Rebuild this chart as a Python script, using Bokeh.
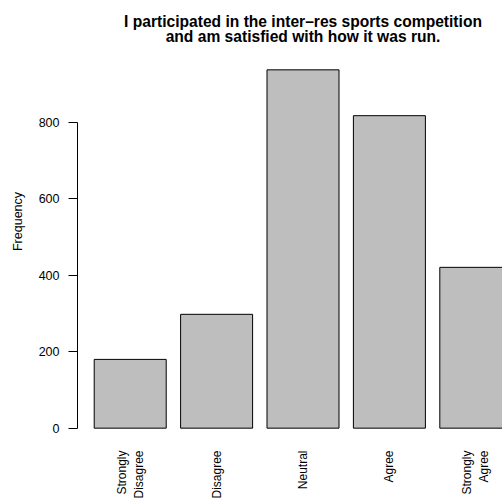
import math
from bokeh.plotting import figure
from bokeh.models import FixedTicker, Range1d, Label
from bokeh.embed import file_html
from bokeh.resources import INLINE

categories = ["Strongly\nDisagree", "Disagree", "Neutral", "Agree", "Strongly\nAgree"]
counts = [180, 298, 938, 818, 421]
y_ticks = [0, 200, 400, 600, 800]
title_lines = ["I participated in the inter\u2013res sports competition",
               "and am satisfied with how it was run."]

FONT = "Liberation Sans"
bar_w = 1.0
space = 0.2
centers = [space * (i + 1) + bar_w * i + bar_w / 2 for i in range(len(counts))]
span = centers[-1] + bar_w / 2 - space
x_lo = space - 0.04 * span
x_hi_full = centers[-1] + bar_w / 2 + 0.04 * span
ymax = max(counts)
y_lo, y_hi_r = -0.04 * ymax, 1.04 * ymax

W, H = 502, 504
left, bottom = 77, 62
r_top = 55                      # top of R's plot region (page px)
frame_w = W - left
px_per_unit = 72.0
x_hi = x_lo + frame_w / px_per_unit
ppu_y = (H - bottom - r_top) / (y_hi_r - y_lo)
y_hi = y_lo + (H - bottom) / ppu_y   # frame extends to the top of the canvas

p = figure(width=W, height=H, output_backend="svg", toolbar_location=None,
           x_range=Range1d(x_lo, x_hi), y_range=Range1d(y_lo, y_hi),
           min_border_left=left, min_border_top=0, min_border_bottom=bottom,
           min_border_right=0)
p.outline_line_color = None
p.grid.visible = False
p.background_fill_color = "white"
p.border_fill_color = "white"

p.vbar(x=centers, top=counts, bottom=0, width=bar_w,
       fill_color="#BEBEBE", line_color="black", line_width=1)

# x axis
xa = p.xaxis[0]
xa.ticker = FixedTicker(ticks=centers)
xa.major_label_overrides = {c: lab for c, lab in zip(centers, categories)}
xa.major_label_orientation = math.pi / 2
xa.axis_line_color = None
xa.major_tick_line_color = None
xa.minor_tick_line_color = None
xa.major_tick_out = 0
xa.major_label_standoff = 8
xa.major_label_text_font = FONT
xa.major_label_text_font_size = "12px"
xa.major_label_text_color = "black"

# y axis
ya = p.yaxis[0]
ya.ticker = FixedTicker(ticks=y_ticks)
ya.bounds = (y_ticks[0], y_ticks[-1])
ya.axis_line_color = "black"
ya.major_tick_line_color = "black"
ya.minor_tick_line_color = None
ya.major_tick_in = 0
ya.major_tick_out = 9
ya.major_label_standoff = 9
ya.major_label_text_font = FONT
ya.major_label_text_font_size = "12.5px"
ya.major_label_text_color = "black"
ya.axis_label = "Frequency"
ya.axis_label_text_font = FONT
ya.axis_label_text_font_size = "12.5px"
ya.axis_label_text_font_style = "normal"
ya.axis_label_text_color = "black"
ya.axis_label_standoff = 11

# title: two centred lines over the centre of R's full plot region
x_mid = (x_lo + x_hi_full) / 2
for line, page_base in zip(title_lines, [21, 35.5]):
    y_data = y_lo + ((H - bottom) - page_base) / ppu_y
    p.add_layout(Label(x=x_mid, y=y_data, text=line, text_align="center",
                       text_baseline="alphabetic", text_font=FONT,
                       text_font_size="15.6px", text_font_style="bold",
                       text_color="black"))

open("out.html", "w").write(file_html(p, INLINE))
